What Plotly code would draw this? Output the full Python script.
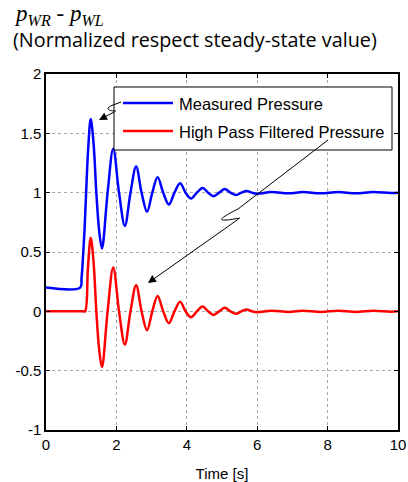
import plotly.graph_objects as go

# ---------------- data ----------------
series_names = ["Measured Pressure", "High Pass Filtered Pressure"]

time_measured = [0, 0.97, 1.01, 1.05, 1.09, 1.13, 1.20, 1.27, 1.35, 1.43, 1.51, 1.59,
                 1.75, 1.91, 2.075, 2.24, 2.40, 2.56, 2.715, 2.87, 3.02, 3.17, 3.33, 3.49,
                 3.65, 3.81, 3.965, 4.12, 4.285, 4.45, 4.605, 4.76, 4.92, 5.08, 5.24, 5.40,
                 5.55, 5.70, 5.85, 6.0, 6.4, 6.9, 7.3, 7.8, 8.3, 8.8, 9.3, 9.8, 10]
measured = [0.2, 0.2, 0.28, 0.45, 0.66, 0.93, 1.38, 1.62, 1.42, 1.0, 0.68, 0.53,
            1.0, 1.37, 1.0, 0.72, 1.0, 1.22, 1.0, 0.84, 1.0, 1.13, 1.0, 0.90,
            1.0, 1.08, 1.0, 0.95, 1.0, 1.04, 1.0, 0.97, 1.0, 1.03, 1.0, 0.98,
            1.0, 1.015, 1.0, 0.99, 1.005, 0.995, 1.005, 0.995, 1.005, 0.995, 1.005, 0.997, 1.0]

time_filtered = [0, 1.05, 1.11, 1.19, 1.27, 1.35, 1.43, 1.51, 1.59,
                 1.75, 1.91, 2.075, 2.24, 2.40, 2.56, 2.715, 2.87, 3.02, 3.17, 3.33, 3.49,
                 3.65, 3.81, 3.965, 4.12, 4.285, 4.45, 4.605, 4.76, 4.92, 5.08, 5.24, 5.40,
                 5.55, 5.70, 5.85, 6.0, 6.4, 6.9, 7.3, 7.8, 8.3, 8.8, 9.3, 9.8, 10]
filtered = [0, 0, 0, 0.36, 0.62, 0.42, 0.0, -0.32, -0.47,
            0, 0.37, 0, -0.28, 0, 0.22, 0, -0.16, 0, 0.13, 0, -0.10,
            0, 0.08, 0, -0.05, 0, 0.04, 0, -0.03, 0, 0.03, 0, -0.02,
            0, 0.015, 0, -0.008, 0.005, -0.005, 0.005, -0.005, 0.005, -0.005, 0.005, -0.003, 0]

x_ticks = [0, 2, 4, 6, 8, 10]
y_ticks = [-1, -0.5, 0, 0.5, 1, 1.5, 2]
x_title = "Time [s]"
title_line1 = "<i>p</i><sub><i>WR</i></sub> - <i>p</i><sub><i>WL</i></sub>"
title_line2 = "(Normalized respect steady-state value)"
colors = ["#0000ff", "#ff0000"]

# ---------------- layout geometry (pixels) ----------------
W, H = 408, 482
L, R, T, B = 46, 398, 74, 430
X_RANGE = [0, 10]
Y_RANGE = [-1, 2]
SANS = "Liberation Sans, Arial, sans-serif"


def xp(px):
    return (px - L) / (R - L)


def yp(py):
    return (B - py) / (B - T)


def xd(px):
    return X_RANGE[0] + (px - L) / (R - L) * (X_RANGE[1] - X_RANGE[0])


def yd(py):
    return Y_RANGE[0] + (B - py) / (B - T) * (Y_RANGE[1] - Y_RANGE[0])


fig = go.Figure()
fig.add_trace(go.Scatter(x=time_measured, y=measured, mode="lines", name=series_names[0],
                         line=dict(color=colors[0], width=2.5, shape="spline", smoothing=1),
                         showlegend=False))
fig.add_trace(go.Scatter(x=time_filtered, y=filtered, mode="lines", name=series_names[1],
                         line=dict(color=colors[1], width=2.5, shape="spline", smoothing=1),
                         showlegend=False))

axis_common = dict(
    showline=True, linecolor="black", linewidth=1.5, mirror="ticks",
    ticks="inside", ticklen=4, tickcolor="black", tickwidth=1,
    showgrid=True, gridcolor="#a8a8a8", gridwidth=1, griddash="dot",
    zeroline=False, automargin=False,
    tickfont=dict(family=SANS, size=15, color="black"),
)

fig.update_xaxes(range=X_RANGE, tickvals=x_ticks, ticktext=[str(v) for v in x_ticks],
                 title=dict(text=x_title, font=dict(family=SANS, size=15, color="black"),
                            standoff=21),
                 **axis_common)
fig.update_yaxes(range=Y_RANGE, tickvals=y_ticks, ticktext=[f"{v:g}" for v in y_ticks],
                 **axis_common)

shapes = []
annotations = []

# ---- manual legend ----
shapes.append(dict(type="rect", xref="paper", yref="paper",
                   x0=xp(114), x1=xp(392), y0=yp(150), y1=yp(87),
                   line=dict(color="black", width=1), fillcolor="white", layer="above"))
for i, (name, c, py) in enumerate(zip(series_names, colors, [103, 131])):
    shapes.append(dict(type="line", xref="paper", yref="paper",
                       x0=xp(123), x1=xp(173), y0=yp(py), y1=yp(py),
                       line=dict(color=c, width=2.5), layer="above"))
    annotations.append(dict(xref="paper", yref="paper", x=xp(177), y=yp(py + 1),
                            xanchor="left", yanchor="middle", text=name, showarrow=False,
                            font=dict(family=SANS, size=16.5, color="black")))


# ---- arrows with break squiggles ----
def path(points_cmds):
    out = []
    for cmd, pts in points_cmds:
        coords = " ".join(f"{xd(px):.4f},{yd(py):.4f}" for px, py in pts)
        out.append(f"{cmd}{coords}")
    return " ".join(out)


arrow1 = path([("M", [(121, 102)]), ("L", [(113, 105)]),
               ("C", [(105, 108), (107, 111), (116, 111)])])
arrow2 = path([("M", [(328, 140)]), ("L", [(238, 209)]),
               ("C", [(214, 221), (218, 222), (240, 218)])])
for p in (arrow1, arrow2):
    shapes.append(dict(type="path", xref="x", yref="y", path=p,
                       line=dict(color="black", width=1), layer="above"))

for (sx, sy), (tx, ty) in [((116, 111), (99, 120)), ((240, 218), (148, 283))]:
    annotations.append(dict(x=xd(tx), y=yd(ty), xref="x", yref="y", ax=sx - tx, ay=sy - ty,
                            axref="pixel", ayref="pixel", text="", showarrow=True,
                            arrowhead=2, arrowsize=1.6, arrowwidth=1, arrowcolor="black",
                            standoff=0, startstandoff=0))

# ---- title lines ----
annotations.append(dict(xref="paper", yref="paper", x=xp(12), y=yp(15), xanchor="left",
                        yanchor="middle", text=title_line1, showarrow=False,
                        font=dict(family="Liberation Serif, Times New Roman, serif", size=23, color="black")))
annotations.append(dict(xref="paper", yref="paper", x=xp(11), y=yp(39), xanchor="left",
                        yanchor="middle", text=title_line2, showarrow=False,
                        font=dict(family="Open Sans, sans-serif", size=19.8, color="black")))

fig.update_layout(
    width=W, height=H, autosize=False,
    margin=dict(l=L, r=W - R, t=T, b=H - B, pad=0),
    paper_bgcolor="white", plot_bgcolor="white",
    shapes=shapes, annotations=annotations,
    showlegend=False,
)

fig.write_html("out.html", config={"displayModeBar": False},
               post_script="document.body.style.margin='0';document.body.style.overflow='hidden';")
